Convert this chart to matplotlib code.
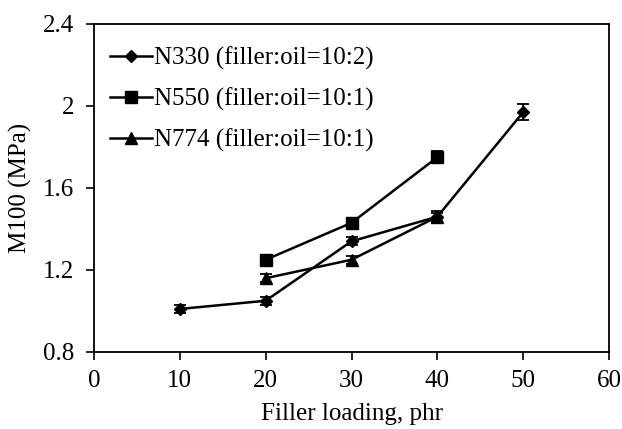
import matplotlib
matplotlib.use("Agg")
import matplotlib.pyplot as plt
from matplotlib.lines import Line2D

plt.rcParams['font.family'] = ['Liberation Serif', 'DejaVu Serif']

n330_x = [10, 20, 30, 40, 50]
n330_y = [1.01, 1.05, 1.34, 1.46, 1.97]
n330_err = [0.02, 0.02, 0.02, 0.02, 0.04]

n550_x = [20, 30, 40]
n550_y = [1.25, 1.43, 1.75]
n550_err = [0.02, 0.02, 0.03]

n774_x = [20, 30, 40]
n774_y = [1.16, 1.25, 1.46]
n774_err = [0.02, 0.02, 0.03]

labels = ["N330 (filler:oil=10:2)", "N550 (filler:oil=10:1)", "N774 (filler:oil=10:1)"]
x_ticks = [0, 10, 20, 30, 40, 50, 60]
y_ticks = [0.8, 1.2, 1.6, 2.0, 2.4]
y_tick_labels = ["0.8", "1.2", "1.6", "2", "2.4"]

fig = plt.figure(figsize=(6.22, 4.29), dpi=100)
ax = fig.add_axes([94/622, 1 - 352/429, (609-94)/622, (352-24)/429])

common = dict(color='black', lw=1.8, capsize=4, elinewidth=1.3, capthick=1.3)
ax.errorbar(n330_x, n330_y, yerr=n330_err, marker='D', ms=6, **common)
ax.errorbar(n550_x, n550_y, yerr=n550_err, marker='s', ms=8, **common)
ax.errorbar(n774_x, n774_y, yerr=n774_err, marker='^', ms=8, **common)

ax.set_xlim(0, 60)
ax.set_ylim(0.8, 2.4)
ax.set_xticks(x_ticks)
ax.set_yticks(y_ticks)
ax.set_yticklabels(y_tick_labels)
ax.tick_params(direction='out', length=6, width=1.2, labelsize=18, color='black')
ax.tick_params(axis='x', pad=7)
ax.tick_params(axis='y', pad=8)
for s in ax.spines.values():
    s.set_linewidth(1.3)
ax.set_xlabel("Filler loading, phr", fontsize=18, labelpad=8)
ax.set_ylabel("M100 (MPa)", fontsize=18, labelpad=8)

handles = [Line2D([], [], color='black', lw=1.8, marker='D', ms=6),
           Line2D([], [], color='black', lw=1.8, marker='s', ms=8),
           Line2D([], [], color='black', lw=1.8, marker='^', ms=8)]
ax.legend(handles, labels, loc='upper left', bbox_to_anchor=(0.031, 0.931),
          frameon=False, fontsize=18, handlelength=1.7,
          handletextpad=0.08, labelspacing=0.7, borderaxespad=0.0, borderpad=0.0)

fig.savefig("out.png", dpi=100)
